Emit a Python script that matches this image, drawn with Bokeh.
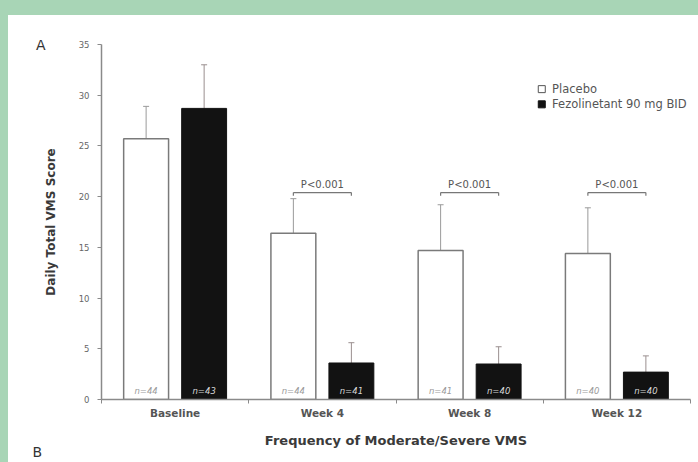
import numpy as np
from bokeh.plotting import figure
from bokeh.models import (ColumnDataSource, Range1d, FixedTicker, Whisker, TeeHead,
                          Title, LinearAxis)
from bokeh.core.properties import value
from bokeh.embed import file_html
from bokeh.resources import INLINE

# ---- data ----
categories = ["Baseline", "Week 4", "Week 8", "Week 12"]
placebo_mean = [25.7, 16.4, 14.7, 14.4]
placebo_lower = [22.6, 12.9, 10.4, 9.9]
placebo_upper = [28.9, 19.8, 19.2, 18.9]
fezo_mean = [28.7, 3.6, 3.5, 2.7]
fezo_lower = [24.7, 1.6, 1.7, 1.1]
fezo_upper = [33.0, 5.6, 5.2, 4.3]
placebo_n = ["n=44", "n=44", "n=41", "n=40"]
fezo_n = ["n=43", "n=41", "n=40", "n=40"]
pvalue_cats = ["Week 4", "Week 8", "Week 12"]
pvalue_text = ["P<0.001", "P<0.001", "P<0.001"]
pvalue_level = 20.4
y_ticks = [0, 5, 10, 15, 20, 25, 30, 35]
series_names = ["Placebo", "Fezolinetant 90 mg BID"]

# ---- styles ----
FONT = "DejaVu Sans"
GREEN = "#a8d5b6"
GRAY = "#8a8a8a"
OFFSET = 0.197
BAR_W = 0.305

centers = np.arange(len(categories)) + 0.5
xp = centers - OFFSET
xf = centers + OFFSET

bg = (f"linear-gradient(to right, {GREEN} 8px, rgba(0,0,0,0) 8px), "
      f"linear-gradient(to bottom, {GREEN} 15px, #ffffff 15px)")

p = figure(width=698, height=462, output_backend="svg", toolbar_location=None,
           x_range=Range1d(0, 4), y_range=Range1d(0, 35),
           min_border_left=101, min_border_right=8, min_border_top=44, min_border_bottom=63,
           styles={"background": bg})
p.outline_line_color = None
p.grid.grid_line_color = None
p.background_fill_color = "white"
p.border_fill_color = None

src_p = ColumnDataSource(dict(x=xp, top=placebo_mean, lo=placebo_lower, hi=placebo_upper, n=placebo_n))
src_f = ColumnDataSource(dict(x=xf, top=fezo_mean, lo=fezo_lower, hi=fezo_upper, n=fezo_n))

p.vbar(x="x", top="top", bottom=0, width=BAR_W, source=src_p,
       fill_color="white", line_color="#7a7a7a", line_width=1.5)
p.vbar(x="x", top="top", bottom=0, width=BAR_W, source=src_f,
       fill_color="#121212", line_color="#121212", line_width=1)

for src, col in ((src_p, "#9a9a9a"), (src_f, "#9a8f8f")):
    w = Whisker(base="x", lower="lo", upper="hi", source=src,
                line_color=col, line_width=1,
                upper_head=TeeHead(size=6, line_color=col, line_width=1),
                lower_head=TeeHead(size=6, line_color=col, line_width=1))
    p.add_layout(w)

# n labels
p.text(x="x", y=0.35, text="n", source=src_p, text_align="center", text_baseline="bottom",
       text_font=value(FONT), text_font_size="8.5px", text_font_style="italic", text_color="#9a9a9a")
p.text(x="x", y=0.35, text="n", source=src_f, text_align="center", text_baseline="bottom",
       text_font=value(FONT), text_font_size="8.5px", text_font_style="italic", text_color="#d8d8d8")

# p-value brackets
idx = [categories.index(c) for c in pvalue_cats]
bx0 = [xp[i] for i in idx]
bx1 = [xf[i] for i in idx]
by = [pvalue_level] * len(idx)
p.segment(x0=bx0, y0=by, x1=bx1, y1=by, line_color="#777777", line_width=1.2)
p.segment(x0=bx0, y0=by, x1=bx0, y1=[pvalue_level - 0.3] * len(idx), line_color="#777777", line_width=1.2)
p.segment(x0=bx1, y0=by, x1=bx1, y1=[pvalue_level - 0.3] * len(idx), line_color="#777777", line_width=1.2)
p.text(x=[(a + b) / 2 for a, b in zip(bx0, bx1)], y=[pvalue_level + 0.25] * len(idx), text=pvalue_text,
       text_align="center", text_baseline="bottom", text_font=value(FONT),
       text_font_size="10px", text_color="#555555")

# legend (manual)
leg_x = 2.99
leg_y = [30.6, 29.1]
p.scatter(x=[leg_x, leg_x], y=leg_y, marker="square", size=7,
          fill_color=["white", "#121212"], line_color=["#555555", "#121212"], line_width=1)
p.text(x=[leg_x + 0.07] * 2, y=leg_y, text=series_names, text_align="left", text_baseline="middle",
       text_font=value(FONT), text_font_size="11.5px", text_color="#555555")

# axes
xa = p.xaxis[0]
xa.ticker = FixedTicker(ticks=list(centers), minor_ticks=[0, 1, 2, 3, 4])
xa.major_label_overrides = {float(c): lab for c, lab in zip(centers, categories)}
xa.major_tick_out = 0
xa.major_tick_in = 0
xa.minor_tick_out = 4
xa.minor_tick_in = 0
xa.minor_tick_line_color = GRAY
xa.axis_line_color = GRAY
xa.axis_line_width = 1.5
xa.major_label_standoff = 3
xa.major_label_text_font = FONT
xa.major_label_text_font_size = "10.5px"
xa.major_label_text_font_style = "bold"
xa.major_label_text_color = "#555555"
xa.axis_label = "Frequency of Moderate/Severe VMS"
xa.axis_label_text_font = FONT
xa.axis_label_text_font_size = "13px"
xa.axis_label_text_font_style = "bold"
xa.axis_label_text_color = "#3a3a3a"
xa.axis_label_standoff = 11

ya = p.yaxis[0]
ya.ticker = FixedTicker(ticks=y_ticks)
ya.minor_tick_line_color = None
ya.major_tick_out = 4
ya.major_tick_in = 0
ya.major_tick_line_color = GRAY
ya.axis_line_color = GRAY
ya.axis_line_width = 1.5
ya.major_label_standoff = 8
ya.major_label_text_font = FONT
ya.major_label_text_font_size = "8.5px"
ya.major_label_text_color = "#666666"
ya.axis_label = "Daily Total VMS Score"
ya.axis_label_text_font = FONT
ya.axis_label_text_font_size = "12px"
ya.axis_label_text_font_style = "bold"
ya.axis_label_text_color = "#3a3a3a"
ya.axis_label_standoff = 18

# panel letter A: an outer left axis with a single labelled tick at the top
panel_a = LinearAxis(ticker=FixedTicker(ticks=[35]), major_label_overrides={35: "A"},
                     axis_line_color=None, major_tick_line_color=None, minor_tick_line_color=None,
                     major_label_standoff=-11, major_label_text_font=FONT,
                     major_label_text_font_size="14px", major_label_text_color="#333333")
p.add_layout(panel_a, "left")

# panel letter B
p.add_layout(Title(text="B", align="left", offset=-69, standoff=-19,
                   text_font=FONT, text_font_size="14px", text_font_style="normal",
                   text_color="#333333"), "below")

open("out.html", "w").write(file_html(p, INLINE))
